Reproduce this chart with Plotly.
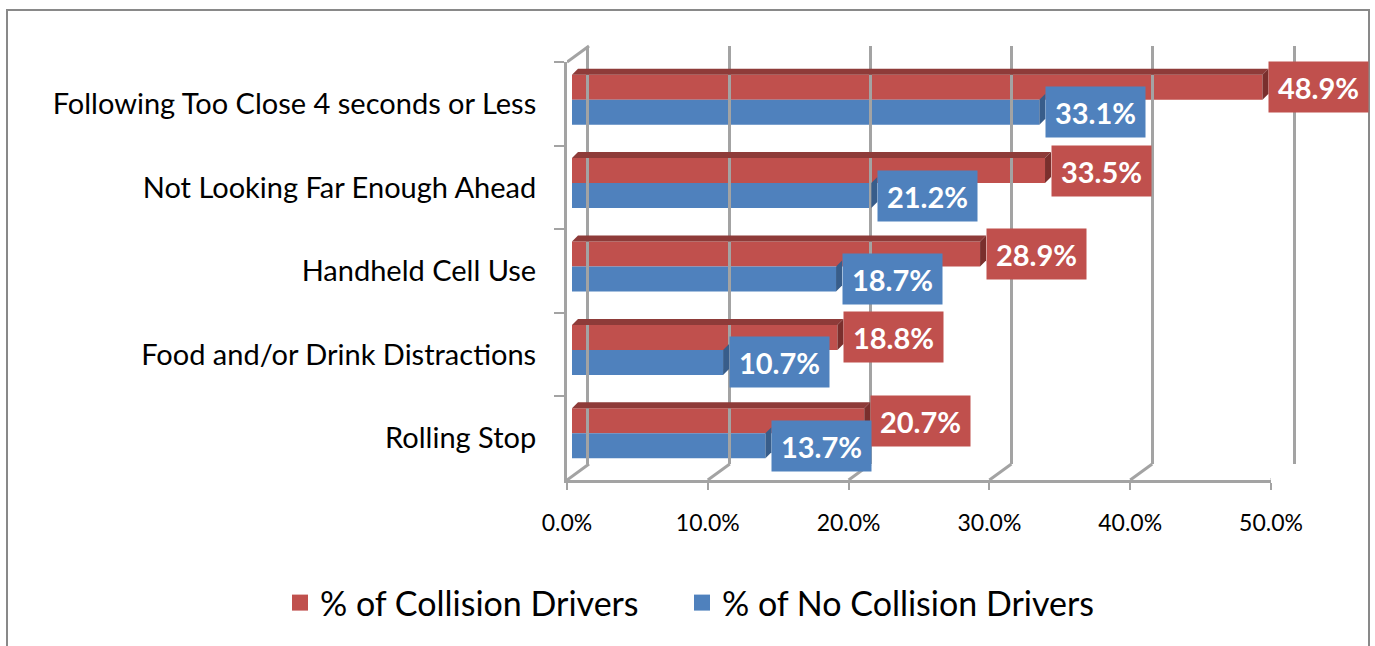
import plotly.graph_objects as go

categories = [
    "Following Too Close 4 seconds or Less",
    "Not Looking Far Enough Ahead",
    "Handheld Cell Use",
    "Food and/or Drink Distractions",
    "Rolling Stop",
]
collision = [48.9, 33.5, 28.9, 18.8, 20.7]
no_collision = [33.1, 21.2, 18.7, 10.7, 13.7]
series_names = ["% of Collision Drivers", "% of No Collision Drivers"]
x_ticks = [0, 10, 20, 30, 40, 50]
x_tick_labels = ["0.0%", "10.0%", "20.0%", "30.0%", "40.0%", "50.0%"]

RED = "#C0504D"
BLUE = "#4F81BD"
RED_DARK = "#8E3B39"
RED_SIDE = "#7A2F2D"
BLUE_DARK = "#385D8A"
GRID = "#A3A3A3"
FONT = "Lato"

W, H = 1375, 646


def fx(px):
    return px / W


def fy(py):
    return 1 - py / H


# 3D geometry (pixels)
DEPTH_X, DEPTH_Y = 22, 16
BAR_DX, BAR_DY = 6, 6
PX_PER_UNIT = (1278 - 572) / 50.0
BAND_PX = (475 - 58) / 5.0
BAR_W = 0.3

fig = go.Figure()

fig.add_trace(go.Bar(
    x=collision, y=categories, orientation="h", name=series_names[0],
    marker=dict(color=RED, line=dict(width=0)), showlegend=False,
    hoverinfo="skip", xaxis="x", yaxis="y",
))
fig.add_trace(go.Bar(
    x=no_collision, y=categories, orientation="h", name=series_names[1],
    marker=dict(color=BLUE, line=dict(width=0)), showlegend=False,
    hoverinfo="skip", xaxis="x", yaxis="y",
))
# legend entries
for nm, col, lw in zip(series_names, [RED, BLUE], [357, 420]):
    fig.add_trace(go.Scatter(
        x=[None], y=[None], mode="markers", name=nm, legendwidth=lw,
        marker=dict(symbol="square", size=19, color=col),
        xaxis="x", yaxis="y", hoverinfo="skip",
    ))
# invisible helpers so that the wall/front axes render
fig.add_trace(go.Scatter(x=collision, y=categories, mode="markers",
                         marker=dict(opacity=0), showlegend=False,
                         hoverinfo="skip", xaxis="x3", yaxis="y3"))
fig.add_trace(go.Scatter(x=collision, y=[None] * len(collision), mode="markers",
                         marker=dict(opacity=0), showlegend=False,
                         hoverinfo="skip", xaxis="x2", yaxis="y2"))

shapes = []
# border of chart area
shapes.append(dict(type="rect", xref="paper", yref="paper",
                   x0=fx(7), x1=fx(1369), y0=-0.05, y1=fy(10),
                   line=dict(color="#898989", width=2), layer="below"))
# floor diagonals at each x tick
for v in x_ticks:
    shapes.append(dict(type="line", xref="x3", xsizemode="pixel", xanchor=v,
                       x0=0, x1=DEPTH_X, yref="paper", ysizemode="pixel",
                       yanchor=fy(480), y0=0, y1=DEPTH_Y,
                       line=dict(color=GRID, width=3), layer="below"))
# top-left wall edge
shapes.append(dict(type="line", xref="x3", xsizemode="pixel", xanchor=x_ticks[0],
                   x0=0, x1=DEPTH_X, yref="paper", ysizemode="pixel",
                   yanchor=fy(62), y0=0, y1=DEPTH_Y,
                   line=dict(color=GRID, width=3), layer="below"))

dx_data = BAR_DX / PX_PER_UNIT
dy_data = BAR_DY / BAND_PX
# 3D faces of bars
for i, v in enumerate(collision):
    top = i - BAR_W
    shapes.append(dict(type="path", xref="x", yref="y", ysizemode="pixel", yanchor=top,
                       path=f"M0,0 L{v},0 L{v + dx_data},{BAR_DY} L{dx_data},{BAR_DY} Z",
                       fillcolor=RED_DARK, line=dict(width=0)))
    shapes.append(dict(type="path", xref="x", yref="y", xsizemode="pixel", xanchor=v,
                       path=f"M0,{top} L0,{i} L{BAR_DX},{i - dy_data} L{BAR_DX},{top - dy_data} Z",
                       fillcolor=RED_SIDE, line=dict(width=0)))
for i, v in enumerate(no_collision):
    top = i
    shapes.append(dict(type="path", xref="x", yref="y", xsizemode="pixel", xanchor=v,
                       path=f"M0,{top} L0,{i + BAR_W} L{BAR_DX},{i + BAR_W - dy_data} L{BAR_DX},{top - dy_data} Z",
                       fillcolor=BLUE_DARK, line=dict(width=0)))

annotations = []
for i, v in enumerate(collision):
    annotations.append(dict(x=v, y=i - BAR_W / 2, xref="x", yref="y", text=f"{v:.1f}%",
                            showarrow=False, xanchor="left", yanchor="middle", xshift=BAR_DX,
                            width=97, height=48, bgcolor=RED,
                            font=dict(family=FONT, size=29, color="white", weight="bold")))
for i, v in enumerate(no_collision):
    annotations.append(dict(x=v, y=i + BAR_W / 2, xref="x", yref="y", text=f"{v:.1f}%",
                            showarrow=False, xanchor="left", yanchor="middle", xshift=BAR_DX,
                            width=97, height=48, bgcolor=BLUE,
                            font=dict(family=FONT, size=29, color="white", weight="bold")))

fig.update_layout(
    template="none",
    width=W, height=H,
    margin=dict(l=0, r=0, t=0, b=0, autoexpand=False),
    paper_bgcolor="white", plot_bgcolor="rgba(0,0,0,0)",
    font=dict(family=FONT, color="black"),
    barmode="group", bargap=0.4, bargroupgap=0,
    showlegend=True,
    legend=dict(orientation="h", x=fx(280), xanchor="left", y=fy(603), yanchor="middle",
                font=dict(family=FONT, size=34, color="black"), itemsizing="trace",
                bgcolor="rgba(0,0,0,0)", borderwidth=0),
    xaxis=dict(domain=[fx(572), fx(1278)], range=[0, 50], visible=False, anchor="y",
               automargin=False),
    yaxis=dict(domain=[fy(475), fy(58)], type="category", categoryorder="array",
               categoryarray=categories, range=[len(categories) - 0.5, -0.5],
               visible=False, anchor="x", automargin=False),
    xaxis2=dict(domain=[fx(589), fx(1293)], range=[0, 50], anchor="y2",
                tickvals=x_ticks, showticklabels=False, ticks="", showgrid=True,
                gridcolor=GRID, gridwidth=3, zeroline=False, showline=False,
                automargin=False),
    yaxis2=dict(domain=[fy(464), fy(46)], range=[0, 1], anchor="x2",
                showticklabels=False, ticks="", showgrid=False, zeroline=False,
                showline=True, mirror=True, linecolor=GRID, linewidth=3,
                automargin=False),
    xaxis3=dict(domain=[fx(567), fx(1271)], range=[0, 50], anchor="y3",
                tickvals=x_ticks, ticktext=x_tick_labels, ticks="outside", ticklen=7,
                tickwidth=2, tickcolor=GRID, showline=True, linecolor=GRID, linewidth=3,
                showgrid=False, zeroline=False, automargin=False, ticklabelstandoff=13,
                tickfont=dict(family=FONT, size=23, color="black")),
    yaxis3=dict(domain=[fy(480), fy(62)], type="category", categoryorder="array",
                categoryarray=categories, range=[len(categories) - 0.5, -0.5], anchor="x3",
                ticks="outside", tickson="boundaries", ticklen=10, tickwidth=2,
                tickcolor=GRID, showline=True, linecolor=GRID, linewidth=3,
                showgrid=False, zeroline=False, ticklabelstandoff=22, automargin=False,
                tickfont=dict(family=FONT, size=29, color="black")),
    shapes=shapes,
    annotations=annotations,
)

fig.write_html(
    "out.html",
    config={"displayModeBar": False, "staticPlot": True},
    post_script="document.body.style.margin='0';document.body.style.overflow='hidden';",
)
